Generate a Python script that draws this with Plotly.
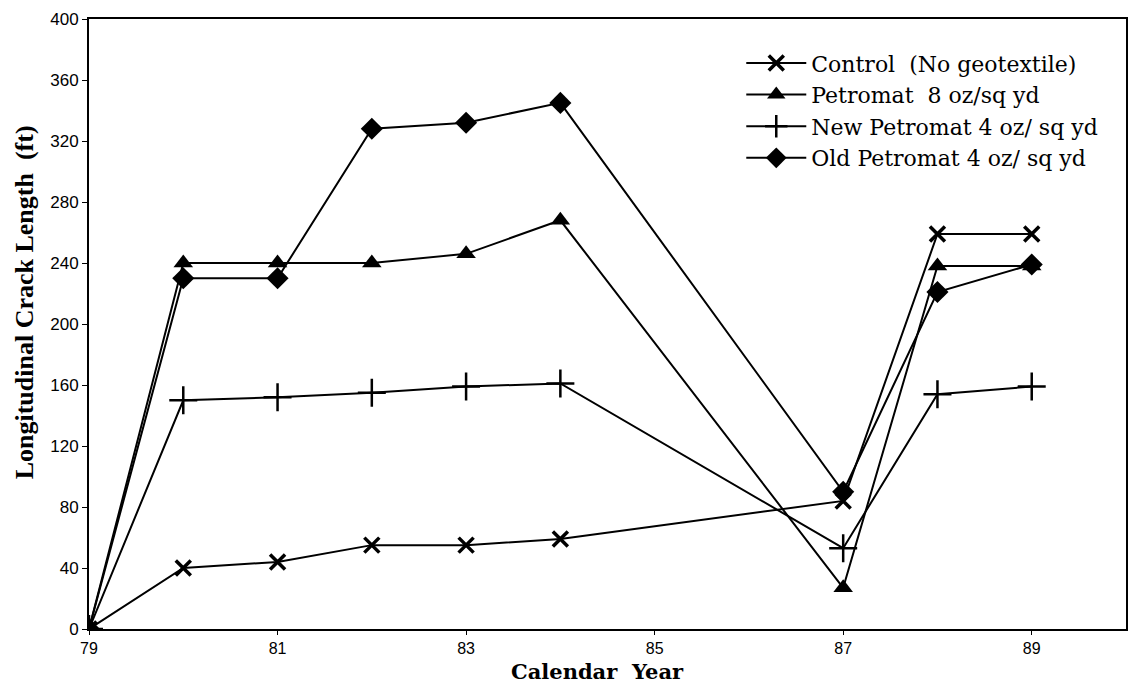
import plotly.graph_objects as go

years = [79, 80, 81, 82, 83, 84, 87, 88, 89]
control = [0, 40, 44, 55, 55, 59, 84, 259, 259]
petromat8 = [0, 240, 240, 240, 246, 268, 27, 238, 238]
new_petromat4 = [0, 150, 152, 155, 159, 161, 53, 154, 159]
old_petromat4 = [0, 230, 230, 328, 332, 345, 90, 221, 239]

series_names = ["Control  (No geotextile)", "Petromat  8 oz/sq yd",
                "New Petromat 4 oz/ sq yd", "Old Petromat 4 oz/ sq yd"]

x_ticks = [79, 81, 83, 85, 87, 89]
y_ticks = [0, 40, 80, 120, 160, 200, 240, 280, 320, 360, 400]

fig = go.Figure()

styles = [
    dict(symbol="x-thin", size=15, line=dict(width=3.5, color="black")),
    dict(symbol="triangle-up", size=17, color="black"),
    dict(symbol="cross-thin", size=20, line=dict(width=2.5, color="black")),
    dict(symbol="diamond", size=17, color="black"),
]
for name, vals, mk in zip(series_names,
                          [control, petromat8, new_petromat4, old_petromat4],
                          styles):
    m = dict(mk)
    m.setdefault("color", "black")
    fig.add_trace(go.Scatter(x=years, y=vals, mode="lines+markers", name=name,
                             line=dict(color="black", width=2),
                             marker=m))

fig.update_layout(
    width=1135, height=686,
    margin=dict(l=89, r=7, t=19, b=57),
    paper_bgcolor="white", plot_bgcolor="white",
    showlegend=True,
    legend=dict(x=0.629, y=0.962, xanchor="left", yanchor="top",
                font=dict(family="DejaVu Serif", size=22, color="black"),
                bgcolor="rgba(0,0,0,0)", tracegroupgap=0, itemwidth=60),
    annotations=[
        dict(text="<b>Longitudinal Crack Length  (ft)</b>",
             xref="paper", yref="paper", x=-0.062, y=0.535,
             xanchor="center", yanchor="middle", textangle=-90,
             showarrow=False,
             font=dict(family="Liberation Serif", size=26, color="black")),
        dict(text="<b>Calendar  Year</b>",
             xref="paper", yref="paper", x=0.49, y=0, yshift=-28,
             xanchor="center", yanchor="top", showarrow=False,
             font=dict(family="DejaVu Serif", size=21, color="black")),
    ],
)
fig.update_xaxes(range=[79, 90], tickvals=x_ticks, ticktext=[str(v) for v in x_ticks],
                 showgrid=False, zeroline=False, showline=True, linecolor="black",
                 linewidth=2, mirror=True, ticks="outside", ticklen=4, tickwidth=1,
                 tickcolor="black",
                 tickfont=dict(family="Liberation Sans", size=16, color="black"))
fig.update_yaxes(range=[0, 400], tickvals=y_ticks, ticktext=[str(v) for v in y_ticks],
                 showgrid=False, zeroline=False, showline=True, linecolor="black",
                 linewidth=2, mirror=True, ticks="outside", ticklen=5, tickwidth=1,
                 tickcolor="black",
                 tickfont=dict(family="Liberation Sans", size=17, color="black"))

fig.write_html("out.html")
